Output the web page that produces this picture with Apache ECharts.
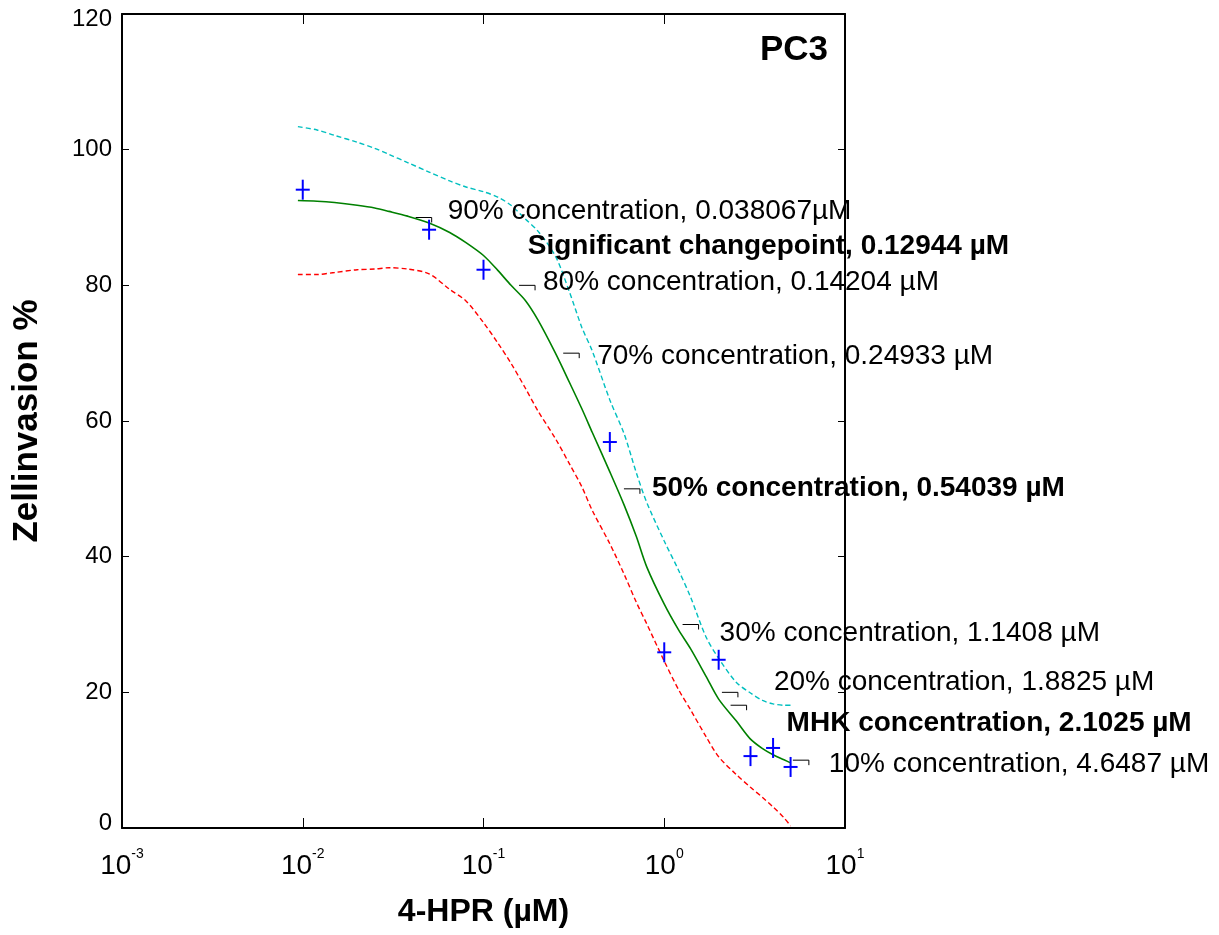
<!DOCTYPE html>
<html>
<head>
<meta charset="utf-8">
<script src="https://cdn.jsdelivr.net/npm/echarts@6/dist/echarts.min.js"></script>
<style>
  html, body { margin: 0; padding: 0; background: #ffffff; }
  #chart { width: 1219px; height: 935px; }
</style>
</head>
<body>
<div id="chart"></div>
<script>
// 4-HPR concentrations (µM) at which the fitted curve and its confidence bounds are sampled
const curveDose = [0.0094, 0.012, 0.015, 0.02, 0.025, 0.03, 0.038, 0.05, 0.065, 0.08,
                   0.1, 0.12, 0.142, 0.17, 0.2, 0.25, 0.3, 0.35, 0.4, 0.5,
                   0.6, 0.7, 0.8, 1.0, 1.2, 1.4, 1.7, 2.0, 2.5, 3.0,
                   3.5, 4.0, 4.6, 5.0];
// fitted dose-response curve (cell invasion %)
const fitValues = [92.5, 92.4, 92.2, 91.8, 91.4, 90.9, 90.2, 89.2, 87.8, 86.3,
                   84.4, 82.2, 80.0, 77.8, 74.9, 70.0, 65.6, 61.8, 58.3, 52.5,
                   47.6, 43.0, 38.5, 33.0, 29.2, 26.4, 22.4, 19.0, 15.8, 13.1,
                   11.7, 10.8, 10.05, 9.6];
// upper confidence bound
const upperValues = [103.4, 102.9, 102.1, 101.1, 100.2, 99.3, 98.1, 96.7, 95.4, 94.5,
                     93.8, 93.0, 91.8, 89.8, 88.0, 84.3, 78.9, 73.8, 70.3, 63.1,
                     58.1, 52.4, 48.0, 42.3, 38.0, 34.0, 28.2, 25.0, 21.5, 19.9,
                     18.8, 18.3, 18.1, 18.1];
// lower confidence bound
const lowerValues = [81.6, 81.6, 81.9, 82.3, 82.4, 82.6, 82.4, 81.7, 79.4, 77.7,
                     74.5, 71.5, 68.5, 64.9, 61.5, 57.4, 53.6, 50.3, 46.8, 41.9,
                     37.4, 33.3, 30.1, 24.6, 20.4, 17.4, 13.5, 10.5, 7.9, 6.0,
                     4.5, 3.1, 1.5, 0.3];

// measured invasion
const measuredDose = [0.01, 0.05, 0.1, 0.5, 1, 2, 3, 4, 5];
const measuredValues = [94.1, 88.2, 82.3, 56.9, 25.9, 24.8, 10.6, 11.8, 9.0];

// annotated concentrations on the fitted curve
const annDose = [0.038067, 0.12944, 0.14204, 0.24933, 0.54039, 1.1408, 1.8825, 2.1025, 4.6487];
const annLevel = [90, 81.2, 80, 70, 50, 30, 20, 18.1, 10];
const annText = [
  '90% concentration, 0.038067µM',
  'Significant changepoint, 0.12944 µM',
  '80% concentration, 0.14204 µM',
  '70% concentration, 0.24933 µM',
  '50% concentration, 0.54039 µM',
  '30% concentration, 1.1408 µM',
  '20% concentration, 1.8825 µM',
  'MHK concentration, 2.1025 µM',
  '10% concentration, 4.6487 µM'
];

// x-axis decades
const xTickExponents = [-3, -2, -1, 0, 1];

// label styling: pixel offset of each text from its point, weight, and whether a tick mark is drawn
const annOffset = [[40, -6], [24, -31], [32, -3], [42, 3], [36, -1], [45, 9], [60, -10], [64, 18], [44, 4]];
const annBold = [false, true, false, false, true, false, false, true, false];
const annMark = [true, false, true, true, true, true, true, true, true];

const FONT = '"Liberation Sans", Arial, Helvetica, sans-serif';

const pairs = (xs, ys) => xs.map((x, i) => [x, ys[i]]);

const chart = echarts.init(document.getElementById('chart'), null, { renderer: 'canvas' });

const xMin = Math.pow(10, xTickExponents[0]);
const xMax = Math.pow(10, xTickExponents[xTickExponents.length - 1]);

const axisLineStyle = { color: '#000', width: 2 };

const option = {
  backgroundColor: '#ffffff',
  animation: false,
  title: {
    text: 'PC3',
    right: 391,
    top: 33,
    padding: 0,
    textStyle: { fontFamily: FONT, fontSize: 35, fontWeight: 'bold', color: '#000' }
  },
  grid: { left: 122, right: 374, top: 14, bottom: 107, containLabel: false, outerBoundsMode: 'none' },
  xAxis: [
    {
      type: 'log', logBase: 10, min: xMin, max: xMax, position: 'bottom',
      name: '4-HPR (µM)', nameLocation: 'middle', nameGap: 68, nameMoveOverlap: false,
      nameTextStyle: { fontFamily: FONT, fontSize: 32, fontWeight: 'bold', color: '#000' },
      axisLine: { show: true, onZero: false, lineStyle: axisLineStyle },
      axisTick: { show: true, inside: true, length: 10, lineStyle: { color: '#000', width: 1 } },
      minorTick: { show: false },
      splitLine: { show: false },
      axisLabel: {
        show: true, margin: 19, showMinLabel: true, showMaxLabel: true,
        formatter: v => '{b|10}{s|' + Math.round(Math.log10(v)) + '}',
        rich: {
          b: { fontFamily: FONT, fontSize: 28, color: '#000' },
          s: { fontFamily: FONT, fontSize: 14, color: '#000', padding: [0, 0, 24, 0] }
        }
      }
    },
    {
      type: 'log', logBase: 10, min: xMin, max: xMax, position: 'top',
      axisLine: { show: true, onZero: false, lineStyle: axisLineStyle },
      axisTick: { show: true, inside: true, length: 10, lineStyle: { color: '#000', width: 1 } },
      axisLabel: { show: false },
      splitLine: { show: false }
    }
  ],
  yAxis: [
    {
      type: 'value', min: 0, max: 120, interval: 20, position: 'left',
      name: 'Zellinvasion %', nameLocation: 'middle', nameGap: 77, nameMoveOverlap: false,
      nameTextStyle: { fontFamily: FONT, fontSize: 35, fontWeight: 'bold', color: '#000' },
      axisLine: { show: true, onZero: false, lineStyle: axisLineStyle },
      axisTick: { show: true, inside: true, length: 7, lineStyle: { color: '#000', width: 1 } },
      splitLine: { show: false },
      axisLabel: {
        show: true, margin: 10, showMinLabel: true, showMaxLabel: true,
        fontFamily: FONT, fontSize: 24, color: '#000',
        formatter: v => v === 0 ? '{lo|0}' : (v === 120 ? '{hi|120}' : '{n|' + v + '}'),
        rich: {
          n: { fontFamily: FONT, fontSize: 24, color: '#000' },
          lo: { fontFamily: FONT, fontSize: 24, color: '#000', padding: [0, 0, 10, 0] },
          hi: { fontFamily: FONT, fontSize: 24, color: '#000', padding: [10, 0, 0, 0] }
        }
      }
    },
    {
      type: 'value', min: 0, max: 120, interval: 20, position: 'right',
      axisLine: { show: true, onZero: false, lineStyle: axisLineStyle },
      axisTick: { show: true, inside: true, length: 7, lineStyle: { color: '#000', width: 1 } },
      axisLabel: { show: false },
      splitLine: { show: false }
    }
  ],
  series: [
    {
      name: 'upper', type: 'line', xAxisIndex: 0, yAxisIndex: 0,
      data: pairs(curveDose, upperValues), showSymbol: false, symbol: 'none', smooth: 0.3,
      lineStyle: { color: '#00BFBF', width: 1.4, type: [5, 3] }, z: 2
    },
    {
      name: 'lower', type: 'line', xAxisIndex: 0, yAxisIndex: 0,
      data: pairs(curveDose, lowerValues), showSymbol: false, symbol: 'none', smooth: 0.3,
      lineStyle: { color: '#FF0000', width: 1.4, type: [5, 3] }, z: 2
    },
    {
      name: 'fit', type: 'line', xAxisIndex: 0, yAxisIndex: 0,
      data: pairs(curveDose, fitValues), showSymbol: false, symbol: 'none', smooth: 0.3,
      lineStyle: { color: '#008000', width: 1.6 }, z: 3
    },
    {
      name: 'measured', type: 'custom', xAxisIndex: 0, yAxisIndex: 0,
      data: pairs(measuredDose, measuredValues), z: 5,
      encode: { x: 0, y: 1 },
      renderItem: (params, api) => {
        const p = api.coord([api.value(0), api.value(1)]);
        const st = { stroke: '#0000FF', lineWidth: 2 };
        return {
          type: 'group',
          children: [
            { type: 'line', shape: { x1: p[0] - 7, y1: p[1], x2: p[0] + 7, y2: p[1] }, style: st },
            { type: 'line', shape: { x1: p[0], y1: p[1] - 10, x2: p[0], y2: p[1] + 10 }, style: st }
          ]
        };
      }
    },
    {
      name: 'annotations', type: 'custom', xAxisIndex: 0, yAxisIndex: 0,
      data: pairs(annDose, annLevel), z: 6, clip: false,
      encode: { x: 0, y: 1 },
      renderItem: (params, api) => {
        const i = params.dataIndex;
        const p = api.coord([api.value(0), api.value(1)]);
        const children = [];
        if (annMark[i]) {
          children.push({
            type: 'polyline',
            shape: { points: [[p[0] + 8, p[1]], [p[0] + 24, p[1]], [p[0] + 24, p[1] + 5]] },
            style: { stroke: '#000', lineWidth: 1, fill: null }
          });
        }
        children.push({
          type: 'text',
          x: p[0] + annOffset[i][0],
          y: p[1] + annOffset[i][1],
          style: {
            text: annText[i], fill: '#000', fontFamily: FONT, fontSize: 28,
            fontWeight: annBold[i] ? 'bold' : 'normal',
            align: 'left', verticalAlign: 'middle'
          }
        });
        return { type: 'group', children };
      }
    }
  ]
};

chart.setOption(option);
</script>
</body>
</html>
